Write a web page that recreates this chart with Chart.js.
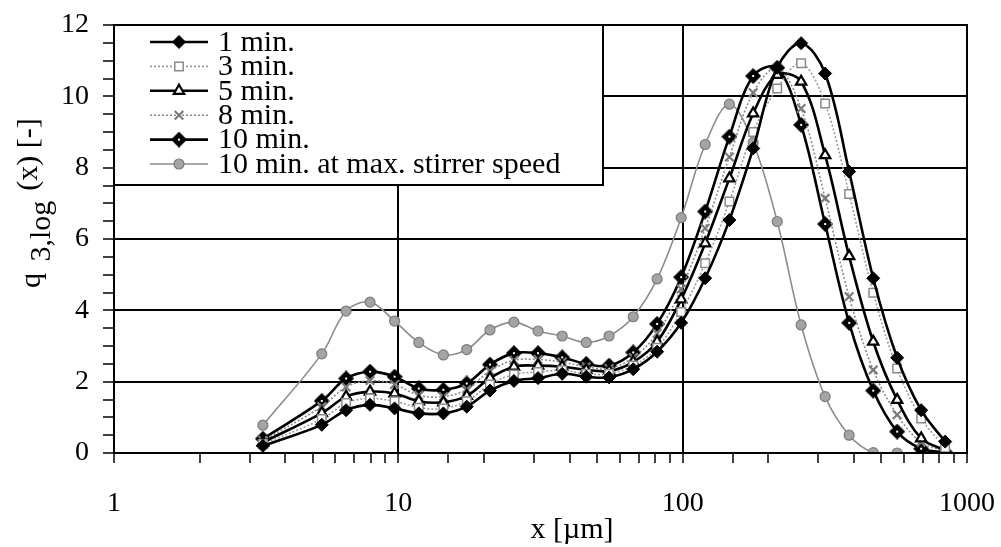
<!DOCTYPE html>
<html>
<head>
<meta charset="utf-8">
<script src="https://cdn.jsdelivr.net/npm/chart.js@4/dist/chart.umd.min.js"></script>
<style>
  body { margin: 0; background: #fff; }
  canvas { display: block; }
</style>
</head>
<body>
<canvas id="psd-chart" width="1001" height="547"></canvas>
<script>
// particle size classes (um) and q3,log values
let sizes = [3.34, 5.38, 6.55, 7.95, 9.7, 11.8, 14.4, 17.4, 21.0, 25.5, 31.0, 37.7, 45.8, 55.1,
  67.0, 81.3, 98.8, 120, 146, 177, 215, 261, 317, 385, 468, 568, 690, 838];

let min1 = [0.2, 0.79, 1.2, 1.35, 1.25, 1.11, 1.11, 1.3, 1.75, 2.02, 2.1, 2.22, 2.14, 2.12,
  2.35, 2.84, 3.65, 4.9, 6.53, 8.54, 10.8, 11.49, 10.64, 7.89, 4.9, 2.67, 1.2, 0.32];
let min3 = [0.25, 0.95, 1.4, 1.53, 1.45, 1.27, 1.25, 1.45, 1.92, 2.2, 2.27, 2.32, 2.22, 2.22,
  2.45, 2.95, 3.95, 5.32, 7.05, 9.0, 10.22, 10.93, 9.8, 7.26, 4.49, 2.37, 0.97, 0.15];
let min5 = [0.3, 1.12, 1.58, 1.72, 1.67, 1.45, 1.42, 1.6, 2.1, 2.42, 2.45, 2.42, 2.33, 2.3,
  2.55, 3.12, 4.31, 5.88, 7.7, 9.52, 10.6, 10.41, 8.35, 5.52, 3.12, 1.49, 0.41, 0.08];
let min8 = [0.35, 1.3, 1.85, 2.03, 1.92, 1.62, 1.58, 1.78, 2.3, 2.6, 2.62, 2.55, 2.42, 2.37,
  2.68, 3.35, 4.6, 6.3, 8.3, 10.1, 10.8, 9.66, 7.14, 4.38, 2.33, 1.07, 0.3, 0.05];
let min10 = [0.4, 1.46, 2.09, 2.28, 2.14, 1.81, 1.77, 1.95, 2.48, 2.8, 2.8, 2.68, 2.5, 2.45,
  2.82, 3.62, 4.93, 6.77, 8.87, 10.57, 10.8, 9.2, 6.42, 3.65, 1.75, 0.6, 0.12, 0.02];
let min10max = [0.78, 2.78, 3.98, 4.23, 3.7, 3.1, 2.75, 2.9, 3.45, 3.67, 3.42, 3.28, 3.1, 3.28,
  3.82, 4.88, 6.6, 8.65, 9.78, 8.7, 6.49, 3.59, 1.58, 0.5, 0.01, 0, 0, 0];

let xTickLabels = [1, 10, 100, 1000];
let yTickLabels = [0, 2, 4, 6, 8, 10, 12];

let seriesNames = ['1 min.', '3 min.', '5 min.', '8 min.', '10 min.', '10 min. at max. stirrer speed'];

Chart.defaults.font.family = '"Liberation Serif", "Times New Roman", serif';
Chart.defaults.color = '#000';

// black diamond with a small white dot in the middle (10 min. marker)
function dotDiamond() {
  let c = document.createElement('canvas');
  c.width = 16; c.height = 16;
  let g = c.getContext('2d');
  g.fillStyle = '#000';
  g.beginPath();
  g.moveTo(8, 0); g.lineTo(16, 8); g.lineTo(8, 16); g.lineTo(0, 8);
  g.closePath(); g.fill();
  g.fillStyle = '#fff';
  g.fillRect(7, 7, 2, 2);
  return c;
}

function pairs(vals) {
  return vals.map(function (v, i) { return { x: sizes[i], y: v }; });
}

let styles = [
  { border: '#000', width: 2.6, dash: [], point: 'rectRot', bg: '#000', pb: '#000', pw: 1, r: 6.5 },
  { border: '#9a9a9a', width: 1.6, dash: [2, 2], point: 'rect', bg: '#fff', pb: '#8a8a8a', pw: 1.5, r: 6 },
  { border: '#000', width: 2.6, dash: [], point: 'triangle', bg: '#fff', pb: '#000', pw: 2.2, r: 6 },
  { border: '#8a8a8a', width: 1.6, dash: [2, 2], point: 'crossRot', bg: '#888', pb: '#7a7a7a', pw: 2.2, r: 6 },
  { border: '#000', width: 2.6, dash: [], point: dotDiamond(), bg: '#000', pb: '#000', pw: 1, r: 7 },
  { border: '#8c8c8c', width: 1.6, dash: [], point: 'circle', bg: '#a4a4a4', pb: '#7c7c7c', pw: 1.2, r: 5 }
];

let allSeries = [min1, min3, min5, min8, min10, min10max];

let datasets = allSeries.map(function (vals, i) {
  let s = styles[i];
  return {
    label: seriesNames[i],
    data: pairs(vals),
    borderColor: s.border,
    borderWidth: s.width,
    borderDash: s.dash,
    pointStyle: s.point,
    pointBackgroundColor: s.bg,
    pointBorderColor: s.pb,
    pointBorderWidth: s.pw,
    pointRadius: s.r,
    tension: 0.35,
    fill: false
  };
});

function isDecade(v) {
  let l = Math.log10(v);
  return Math.abs(l - Math.round(l)) < 1e-6;
}

// frame, legend box and axis titles
let decorations = {
  id: 'decorations',
  afterDraw: function (chart) {
    let ctx = chart.ctx;
    let a = chart.chartArea;
    ctx.save();
    ctx.strokeStyle = '#000';
    ctx.lineWidth = 2;
    ctx.setLineDash([]);
    ctx.strokeRect(a.left, a.top, a.right - a.left, a.bottom - a.top);

    // legend
    let bx = a.left, by = a.top, bw = 489, bh = 160;
    ctx.fillStyle = '#fff';
    ctx.fillRect(bx, by, bw, bh);
    ctx.strokeRect(bx, by, bw, bh);
    ctx.font = '30px "Liberation Serif", serif';
    ctx.textBaseline = 'middle';
    chart.data.datasets.forEach(function (ds, i) {
      let y = by + 17 + i * 24.4;
      ctx.strokeStyle = ds.borderColor;
      ctx.lineWidth = ds.borderWidth;
      ctx.setLineDash(ds.borderDash);
      ctx.beginPath();
      ctx.moveTo(bx + 36, y);
      ctx.lineTo(bx + 94, y);
      ctx.stroke();
      ctx.setLineDash([]);
      ctx.fillStyle = ds.pointBackgroundColor;
      ctx.strokeStyle = ds.pointBorderColor;
      ctx.lineWidth = ds.pointBorderWidth;
      Chart.helpers.drawPoint(ctx, { pointStyle: ds.pointStyle, radius: ds.pointRadius, borderWidth: ds.pointBorderWidth, rotation: 0 }, bx + 65, y);
      ctx.fillStyle = '#000';
      ctx.fillText(ds.label, bx + 104, y + 1);
    });

    // x title
    ctx.fillStyle = '#000';
    ctx.font = '30px "Liberation Serif", serif';
    ctx.textAlign = 'center';
    ctx.textBaseline = 'alphabetic';
    ctx.fillText('x [\u00b5m]', 572, 538);

    // y title q_{3,log}(x) [-]
    ctx.translate(40, 288);
    ctx.rotate(-Math.PI / 2);
    ctx.textAlign = 'left';
    let px = 0;
    ctx.font = '30px "Liberation Serif", serif';
    ctx.fillText('q', px, 0);
    px += ctx.measureText('q ').width + 4;
    ctx.fillText('3,log', px, 10);
    px += ctx.measureText('3,log').width + 10;
    ctx.fillText('(x) [-]', px, -3);
    ctx.restore();
  }
};

let chartCanvas = document.querySelector('#psd-chart');
let contex = chartCanvas.getContext('2d');

let psdChart = new Chart(contex, {
  type: 'line',
  data: { datasets: datasets },
  options: {
    responsive: false,
    animation: false,
    layout: { padding: { top: 25, right: 34, bottom: 0, left: 0 } },
    plugins: { legend: { display: false }, tooltip: { enabled: false } },
    scales: {
      x: {
        type: 'logarithmic',
        min: 1,
        max: 1000,
        afterFit: function (scale) {
          scale.height = 94;
          scale.paddingLeft = 0;
          scale.paddingRight = 0;
        },
        border: { color: '#000', width: 2 },
        grid: {
          color: function (c) { return c.tick && isDecade(c.tick.value) ? '#000' : 'rgba(0,0,0,0)'; },
          lineWidth: 2,
          tickColor: '#000',
          tickWidth: 1.5,
          tickLength: 10
        },
        ticks: {
          autoSkip: false,
          maxRotation: 0,
          padding: 24,
          font: { size: 28 },
          callback: function (v) { return xTickLabels.indexOf(Math.round(v)) >= 0 && isDecade(v) ? String(Math.round(v)) : ''; }
        }
      },
      y: {
        min: 0,
        max: 12,
        afterFit: function (scale) {
          scale.width = 114;
          scale.paddingTop = 0;
          scale.paddingBottom = 0;
        },
        border: { color: '#000', width: 2 },
        grid: {
          color: function (c) { return c.tick && yTickLabels.indexOf(c.tick.value) >= 0 ? '#000' : 'rgba(0,0,0,0)'; },
          lineWidth: 2,
          tickColor: '#000',
          tickWidth: 1.5,
          tickLength: 11
        },
        ticks: {
          stepSize: 0.5,
          autoSkip: false,
          padding: 14,
          font: { size: 28 },
          callback: function (v) { return yTickLabels.indexOf(v) >= 0 ? String(v) : ''; }
        }
      }
    }
  },
  plugins: [decorations]
});
</script>
</body>
</html>
